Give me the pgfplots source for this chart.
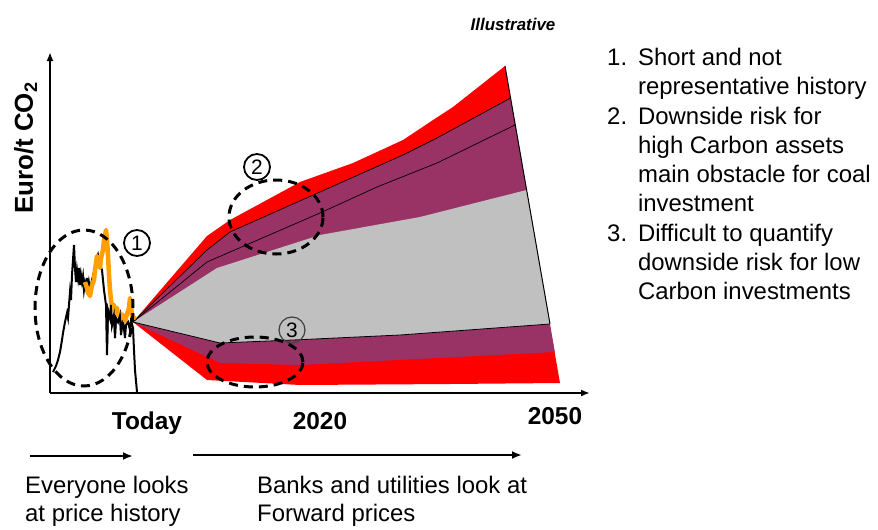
\documentclass[border=0pt]{standalone}
\usepackage{pgfplots}
\pgfplotsset{compat=1.18}
\usepackage{fontspec}
\setmainfont{Liberation Sans}
\usetikzlibrary{arrows.meta}
\definecolor{fanred}{HTML}{FF0000}
\definecolor{fanpurple}{HTML}{993366}
\definecolor{fangrey}{HTML}{C0C0C0}
\definecolor{historange}{HTML}{FFA000}
\begin{document}
\begin{tikzpicture}
\begin{axis}[x=1bp,y=1bp,xmin=0,xmax=540,ymin=0,ymax=341,
  axis x line=bottom, axis y line=left, xtick=\empty, ytick=\empty,
  enlargelimits=false, clip=false,
  axis line style={line width=2.2bp,-{Latex[length=9bp,width=7bp]}}]
% bounding box of the whole picture
\path (axis cs:-50,-131) rectangle (axis cs:828,393);
% outer red band
\addplot[fill=fanred, draw=none] coordinates {
 (83,71) (157,157) (180,173) (250,211) (303,230) (353,253) (383,273) (403,286) (455,327)
 (510,10) (400,9) (250,8) (157,13) (83,71)};
% purple band
\addplot[fill=fanpurple, draw=none] coordinates {
 (83,71) (157,143) (180,161) (270,201) (353,238) (387,255) (460.6,295)
 (504.8,41) (250,28) (170,30) (83,71)};
% grey band
\addplot[fill=fangrey, draw=none] coordinates {
 (83,71) (167,125) (217,141) (270,158) (370,176) (437,193) (476.6,203)
 (500,69) (350,58) (243,53) (170,50) (83,71)};
% thin lines
\addplot[black, line width=0.7bp] coordinates {
 (83,71) (157,143) (180,161) (270,201) (353,238) (387,255) (460.6,295)};
\addplot[black, line width=0.7bp] coordinates {
 (83,71) (157,131) (270,180) (327,206) (387,230) (465,268)};
\addplot[black, line width=0.8bp] coordinates {
 (83,71) (170,50) (243,53) (350,58) (500,69)};
\addplot[black, line width=1bp] coordinates {(455,327) (500,69)};
% price history
\addplot[black, line width=2bp] coordinates {
 (3,21) (6,27) (8,33) (10,41) (12,53) (13,60) (15,71) (17,80) (18,75) (20,101) (21,93)
 (22,118) (24,148) (25,125) (26,111) (27,123) (28,115) (29,125) (30,108) (31,118) (32,111)
 (33,117) (34,103) (35,110) (36,105) (37,115) (38,101) (39,110) (40,103) (42,113) (44,121)
 (46,131) (48,138) (50,128) (52,123) (54,103) (56,88) (57,38) (58,83) (60,75) (61,88)
 (62,68) (64,78) (65,55) (66,75) (68,71) (70,78) (71,58) (73,73) (75,55) (76,68) (78,71)
 (80,63) (81,73) (83,65) (84,43) (85,23) (87,1)};
\addplot[historange, line width=4.5bp, line join=round] coordinates {
 (35,111) (37,105) (38,101) (40,97) (42,108) (44,113) (45,123) (47,137) (48,131) (50,125)
 (51,135) (53,143) (54,153) (56,163) (57,153) (58,138) (59,118) (60,103) (61,93) (62,86)
 (64,88) (65,81) (67,85) (68,78) (70,80) (72,75) (74,77) (75,72) (77,79) (79,85) (80,95)
 (81,88) (82,77) (84,75) (85,77)};
\addplot[black, line width=1.6bp] coordinates {
 (57,38) (58,83) (60,75) (61,88) (62,68) (64,78) (65,55) (66,75) (68,71) (70,78) (71,58)};
% ellipses
\draw[black, line width=3bp, dash pattern=on 9bp off 6bp] (axis cs:34,85) ellipse [x radius=49bp, y radius=78bp];
\draw[black, line width=3bp, dash pattern=on 9bp off 6bp] (axis cs:226,176) ellipse [x radius=47bp, y radius=37bp];
\draw[black, line width=3bp, dash pattern=on 9bp off 6bp] (axis cs:205,31) ellipse [x radius=48bp, y radius=25bp];
\node[draw, circle, line width=1.8bp, minimum size=26bp, inner sep=0pt, font=\fontsize{21}{21}\selectfont] at (axis cs:87,150) {1};
\node[draw, circle, line width=1.8bp, minimum size=26bp, inner sep=0pt, font=\fontsize{21}{21}\selectfont] at (axis cs:207,226) {2};
\node[draw=black!75, circle, line width=1.2bp, minimum size=26bp, inner sep=0pt, font=\fontsize{21}{21}\selectfont] at (axis cs:242,63) {3};
% labels
\node[rotate=90, anchor=base, font=\bfseries\fontsize{26}{26}\selectfont] at (axis cs:-17,245) {Euro/t CO\textsubscript{2}};
\node[anchor=base, font=\bfseries\fontsize{24.5}{24.5}\selectfont] at (axis cs:97,-36.5) {Today};
\node[anchor=base, font=\bfseries\fontsize{24.5}{24.5}\selectfont] at (axis cs:270,-36.5) {2020};
\node[anchor=base, font=\bfseries\fontsize{24.5}{24.5}\selectfont] at (axis cs:505,-31.5) {2050};
\node[anchor=base, font=\bfseries\itshape\fontsize{17}{17}\selectfont] at (axis cs:463,363) {Illustrative};
% bottom arrows and texts
\draw[line width=2.4bp, -{Latex[length=10bp,width=8bp]}] (axis cs:-20,-63) -- (axis cs:83,-63);
\draw[line width=2.4bp, -{Latex[length=10bp,width=8bp]}] (axis cs:143,-62) -- (axis cs:472,-62);
\node[anchor=base west, inner sep=0pt, font=\fontsize{24}{28}\selectfont] at (axis cs:-25,-100.5)
 {\begin{tabular}[t]{@{}l@{}}Everyone looks\\at price history\end{tabular}};
\node[anchor=base west, inner sep=0pt, font=\fontsize{24}{28}\selectfont] at (axis cs:207,-100.5)
 {\begin{tabular}[t]{@{}l@{}}Banks and utilities look at\\Forward prices\end{tabular}};
% right list
\node[anchor=base west, inner sep=0pt, font=\fontsize{24}{29.4}\selectfont] at (axis cs:557,327.5)
 {\begin{tabular}[t]{@{}l@{\hspace{11bp}}l@{}}
 1. & Short and not\\
    & representative history\\
 2. & Downside risk for\\
    & high Carbon assets\\
    & main obstacle for coal\\
    & investment\\
 3. & Difficult to quantify\\
    & downside risk for low\\
    & Carbon investments
 \end{tabular}};
\end{axis}
\end{tikzpicture}
\end{document}
